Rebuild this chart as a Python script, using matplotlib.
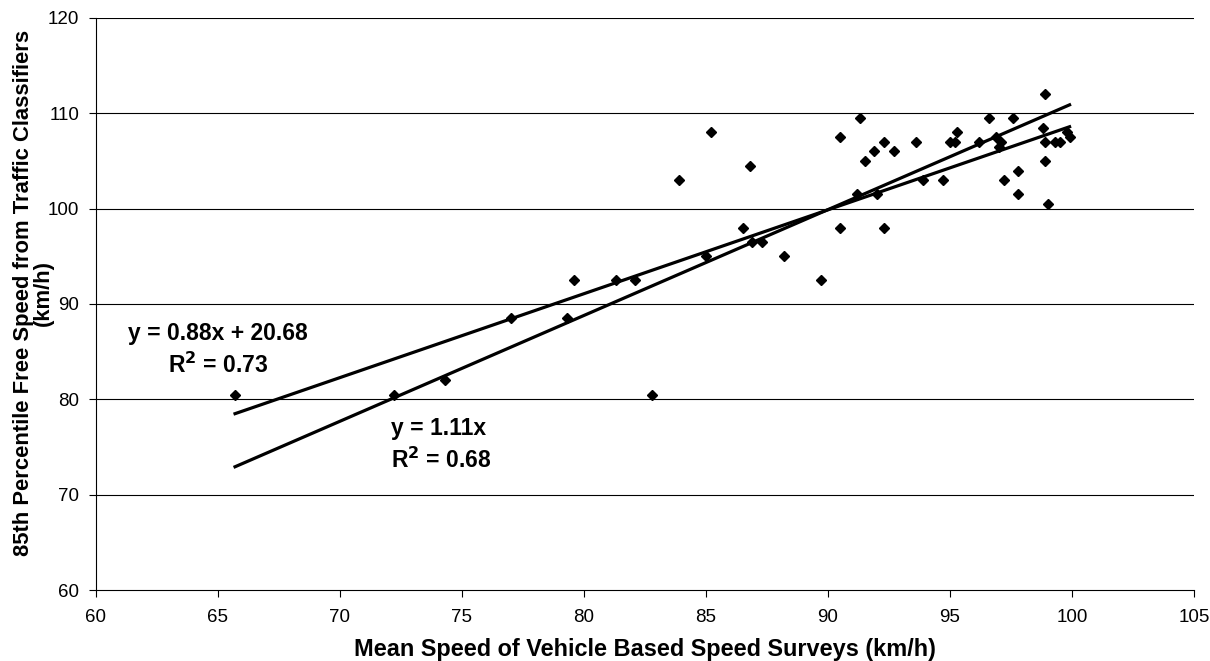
import numpy as np
import matplotlib
matplotlib.use("Agg")
import matplotlib.pyplot as plt

plt.rcParams['font.family'] = ['Liberation Sans', 'DejaVu Sans']

# mean speed from vehicle surveys (km/h)
mean_speed = [65.7, 72.2, 74.3, 77.0, 79.3, 79.6, 81.3, 82.1, 82.8, 83.9,
              85.2, 85.0, 86.8, 86.5, 86.9, 87.3, 88.2, 89.7, 90.5, 90.5,
              91.3, 91.5, 91.9, 92.3, 92.7, 91.2, 92.0, 92.3, 93.6, 93.9,
              94.7, 95.0, 95.2, 95.3, 96.2, 96.6, 96.9, 97.1, 97.0, 97.2,
              97.6, 97.8, 97.8, 98.8, 98.9, 98.9, 98.9, 99.0, 99.3, 99.5,
              99.8, 99.9]
# 85th percentile free speed from classifiers (km/h)
p85_speed = [80.5, 80.5, 82.0, 88.5, 88.5, 92.5, 92.5, 92.5, 80.5, 103.0,
             108.0, 95.0, 104.5, 98.0, 96.5, 96.5, 95.0, 92.5, 98.0, 107.5,
             109.5, 105.0, 106.0, 107.0, 106.0, 101.5, 101.5, 98.0, 107.0, 103.0,
             103.0, 107.0, 107.0, 108.0, 107.0, 109.5, 107.5, 107.0, 106.5, 103.0,
             109.5, 104.0, 101.5, 108.5, 112.0, 107.0, 105.0, 100.5, 107.0, 107.0,
             108.0, 107.5]

# trendlines (Excel)
lin_slope, lin_icept = 0.88, 20.68
orig_slope = 1.11

xticks = list(range(60, 106, 5))
yticks = list(range(60, 121, 10))

fig = plt.figure(figsize=(12.1, 6.61), dpi=100)
ax = fig.add_axes([0.0793, 0.1074, 0.9075, 0.8654])

x = np.array(mean_speed)
y = np.array(p85_speed)

for yt in yticks[1:]:
    ax.axhline(yt, color='black', lw=0.8, zorder=1)

xs = np.array([x.min(), x.max()])
ax.plot(xs, lin_slope * xs + lin_icept, color='black', lw=2.3, zorder=3)
ax.plot(xs, orig_slope * xs, color='black', lw=2.3, zorder=3)

ax.plot(x, y, linestyle='none', marker='D', markersize=5.5,
        color='black', zorder=4)

lab = dict(fontsize=16.5, fontweight='bold', va='center')
ax.text(65.0, 86.9, 'y = 0.88x + 20.68', ha='center', **lab)
ax.text(65.0, 83.6, 'R$^{\\mathbf{2}}$ = 0.73', ha='center', **lab)
ax.text(72.1, 76.9, 'y = 1.11x', ha='left', **lab)
ax.text(72.1, 73.6, 'R$^{\\mathbf{2}}$ = 0.68', ha='left', **lab)

ax.set_xlim(60, 105)
ax.set_ylim(60, 120)
ax.set_xticks(xticks)
ax.set_yticks(yticks)
ax.tick_params(direction='out', length=5, width=0.8, labelsize=13.5,
               colors='black')
ax.tick_params(axis='x', pad=9)
ax.tick_params(axis='y', pad=7)

for side in ['top', 'right']:
    ax.spines[side].set_visible(False)
for side in ['left', 'bottom']:
    ax.spines[side].set_linewidth(0.8)

ax.set_xlabel('Mean Speed of Vehicle Based Speed Surveys (km/h)',
              fontsize=16.9, fontweight='bold', labelpad=8)
ax.set_ylabel('85th Percentile Free Speed from Traffic Classifiers\n(km/h)',
              fontsize=15.8, fontweight='bold', linespacing=0.95)
ax.yaxis.set_label_coords(-0.038, 0.52)

fig.savefig('out.png', dpi=100)
